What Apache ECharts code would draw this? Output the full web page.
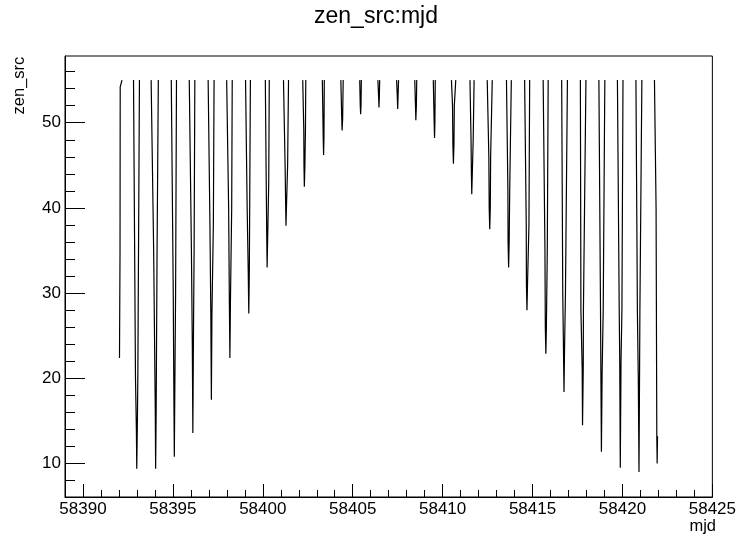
<!DOCTYPE html>
<html>
<head>
<meta charset="utf-8">
<title>zen_src:mjd</title>
<script src="https://cdn.jsdelivr.net/npm/echarts@6/dist/echarts.min.js"></script>
<style>
  html, body { margin: 0; padding: 0; background: #fff; }
  #chart { width: 739px; height: 536px; }
</style>
</head>
<body>
<div id="chart"></div>
<script>
// One entry per night: the source rises through the zenith cut, culminates and sets again.
// Each arm is traced by a few vertices (top at the cut, mid, knee) down to the lowest point.
// Partial nights at the start and end of the run have a missing arm (null).
const zenCut = 55;

const riseTopMjd = [null, 58392.81, 58393.79, 58394.91, 58395.91, 58396.96, 58397.99, 58399.04, 58400.14, 58401.15,
  58402.22, 58403.31, 58404.34, 58405.39, 58406.40, 58407.44, 58408.45, 58409.48, 58410.49, 58411.52,
  58412.48, 58413.55, 58414.56, 58415.59, 58416.62, 58417.66, 58418.69, 58419.72, 58420.75, 58421.78];

const riseMidMjd = [null, 58392.92, 58393.93, 58395.02, 58396.03, 58397.06, 58398.10, 58399.13, 58400.19, 58401.24,
  58402.28, null, null, null, null, null, null, null, 58410.55, 58411.58,
  58412.57, 58413.63, 58414.65, 58415.69, 58416.68, 58417.69, 58418.78, 58419.82, 58420.83, 58421.87];

const riseKneeMjd = [null, 58392.97, 58394.02, 58395.05, 58396.08, 58397.11, 58398.14, 58399.19, 58400.22, 58401.27,
  58402.29, 58403.36, 58404.39, 58405.42, 58406.44, 58407.48, 58408.49, 58409.53, 58410.57, 58411.60,
  58412.59, 58413.64, 58414.66, 58415.71, 58416.72, 58417.76, 58418.80, 58419.85, 58420.88, 58421.91];

const lowMjd = [58392.03, 58392.99, 58394.04, 58395.08, 58396.11, 58397.14, 58398.17, 58399.22, 58400.24, 58401.29,
  58402.31, 58403.38, 58404.41, 58405.44, 58406.46, 58407.50, 58408.51, 58409.55, 58410.60, 58411.62,
  58412.62, 58413.67, 58414.69, 58415.74, 58416.75, 58417.78, 58418.83, 58419.88, 58420.92, 58421.93];

const setKneeMjd = [58392.06, 58393.02, 58394.07, 58395.11, 58396.14, 58397.17, 58398.20, 58399.25, 58400.27, 58401.32,
  58402.34, 58403.40, 58404.44, 58405.46, 58406.48, 58407.52, 58408.54, 58409.57, 58410.63, 58411.65,
  58412.65, 58413.70, 58414.72, 58415.77, 58416.78, 58417.82, 58418.87, 58419.92, 58420.95, 58421.95];

const setMidMjd = [58392.07, 58393.05, 58394.12, 58395.15, 58396.18, 58397.25, 58398.27, 58399.27, 58400.33, 58401.38,
  58402.37, null, null, null, null, null, null, null, 58410.65, 58411.70,
  58412.67, 58413.73, 58414.80, 58415.82, 58416.83, 58417.83, 58418.93, 58419.97, 58420.97, null];

const setTopMjd = [58392.17, 58393.14, 58394.19, 58395.20, 58396.22, 58397.29, 58398.30, 58399.31, 58400.36, 58401.43,
  58402.39, 58403.42, 58404.47, 58405.48, 58406.50, 58407.55, 58408.56, 58409.59, 58410.73, 58411.75,
  58412.76, 58413.82, 58414.84, 58415.87, 58416.94, 58417.97, 58419.02, 58420.03, 58421.08, null];

const midZen = [54.2, 20.0, 35.0, 30.0, 35.0, 38.0, 40.0, 40.0, 43.0, 45.0,
  49.0, null, null, null, null, null, null, null, 52.0, 48.0,
  46.0, 42.0, 38.0, 35.0, 30.0, 28.0, 28.0, 28.0, 28.0, 40.0];

const kneeZen = [35.0, 13.9, 16.3, 19.5, 24.0, 27.4, 29.0, 32.5, 36.5, 40.5,
  44.9, 48.2, 50.5, 52.0, 53.0, 53.0, 52.0, 50.0, 47.5, 44.0,
  40.0, 36.0, 31.0, 26.0, 23.5, 21.2, 20.8, 21.9, 20.2, 13.2];

const lowZen = [22.4, 9.4, 9.4, 10.8, 13.6, 17.5, 22.4, 27.6, 33.0, 37.9,
  42.5, 46.2, 49.1, 51.0, 51.8, 51.6, 50.3, 48.2, 45.2, 41.6,
  37.5, 33.0, 28.0, 22.9, 18.4, 14.5, 11.4, 9.5, 9.0, 10.0];

// Axis ticks
const xMajorTicks = [58390, 58395, 58400, 58405, 58410, 58415, 58420, 58425];
const yMajorTicks = [10, 20, 30, 40, 50];
const yMinorTicks = [8, 12, 14, 16, 18, 22, 24, 26, 28, 32, 34, 36, 38, 42, 44, 46, 48, 52, 54, 56];

const FONT = '"Liberation Sans", Arial, Helvetica, sans-serif';

function nightTrack(i) {
  const pts = [];
  if (riseTopMjd[i] != null) pts.push([riseTopMjd[i], zenCut]);
  if (riseMidMjd[i] != null) pts.push([riseMidMjd[i], midZen[i]]);
  if (riseKneeMjd[i] != null) pts.push([riseKneeMjd[i], kneeZen[i]]);
  pts.push([lowMjd[i], lowZen[i]]);
  if (setKneeMjd[i] != null) pts.push([setKneeMjd[i], kneeZen[i]]);
  if (setMidMjd[i] != null) pts.push([setMidMjd[i], midZen[i]]);
  if (setTopMjd[i] != null) pts.push([setTopMjd[i], zenCut]);
  return pts;
}

const series = lowMjd.map((_, i) => ({
  type: 'line',
  xAxisIndex: 0,
  yAxisIndex: 0,
  data: nightTrack(i),
  showSymbol: false,
  symbol: 'none',
  silent: true,
  lineStyle: { color: '#000', width: 1.2 },
  animation: false
}));

const chart = echarts.init(document.getElementById('chart'), null, { renderer: 'canvas' });

chart.setOption({
  animation: false,
  backgroundColor: '#fff',
  grid: {
    left: 65, right: 22, top: 56, bottom: 39,
    show: true, borderColor: '#000', borderWidth: 1, backgroundColor: 'transparent'
  },
  xAxis: [
    {
      type: 'value', min: 58389, max: 58425, position: 'bottom',
      axisLine: { show: true, onZero: false, lineStyle: { color: '#000', width: 1 } },
      axisTick: { show: true, inside: true, length: 13, customValues: xMajorTicks, lineStyle: { color: '#000', width: 1 } },
      axisLabel: { show: true, customValues: xMajorTicks, margin: 4, color: '#000', fontFamily: FONT, fontSize: 17,
        formatter: v => String(v) },
      splitLine: { show: false }
    },
    {
      type: 'value', min: 58389, max: 58425, interval: 1, position: 'bottom',
      axisLine: { show: false, onZero: false },
      axisTick: { show: true, inside: true, length: 7, lineStyle: { color: '#000', width: 1 } },
      axisLabel: { show: false },
      splitLine: { show: false }
    }
  ],
  yAxis: [
    {
      type: 'value', min: 6.08, max: 57.83, position: 'left',
      axisLine: { show: true, onZero: false, lineStyle: { color: '#000', width: 1 } },
      axisTick: { show: true, inside: true, length: 20, customValues: yMajorTicks, lineStyle: { color: '#000', width: 1 } },
      axisLabel: { show: true, customValues: yMajorTicks, margin: 4, color: '#000', fontFamily: FONT, fontSize: 17 },
      splitLine: { show: false }
    },
    {
      type: 'value', min: 6.08, max: 57.83, position: 'left',
      axisLine: { show: false, onZero: false },
      axisTick: { show: true, inside: true, length: 10, customValues: yMinorTicks, lineStyle: { color: '#000', width: 1 } },
      axisLabel: { show: false },
      splitLine: { show: false }
    }
  ],
  graphic: [
    {
      type: 'text', x: 376, y: 5.5,
      style: { text: 'zen_src:mjd', font: '23px ' + FONT, fill: '#000', align: 'center', verticalAlign: 'top' }
    },
    {
      type: 'text', x: 716, y: 517.5,
      style: { text: 'mjd', font: '16.5px ' + FONT, fill: '#000', align: 'right', verticalAlign: 'top' }
    },
    {
      type: 'text', x: 11, y: 56.7, rotation: Math.PI / 2,
      style: { text: 'zen_src', font: '16.5px ' + FONT, fill: '#000', align: 'right', verticalAlign: 'top' }
    }
  ],
  series: series
});
</script>
</body>
</html>
